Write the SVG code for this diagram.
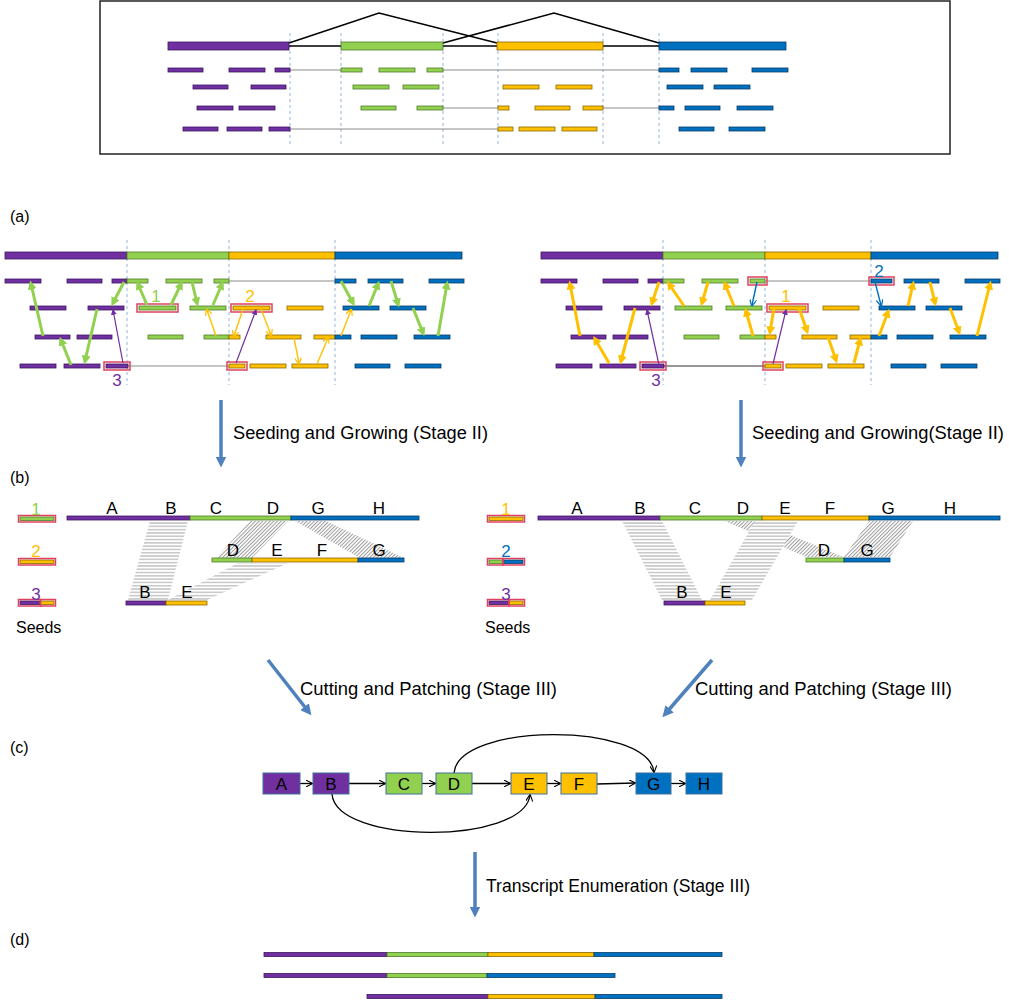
<svg xmlns="http://www.w3.org/2000/svg" xmlns:xlink="http://www.w3.org/1999/xlink" width="1009" height="1000" viewBox="0 0 1009 1000">
<style>
text{font-family:"Liberation Sans",Arial,sans-serif;fill:#000}
.p{fill:#7030A0;stroke:#3B1760;stroke-width:0.8}
.g{fill:#92D050;stroke:#4F7A28;stroke-width:0.8}
.y{fill:#FFC000;stroke:#8A6800;stroke-width:0.8}
.b{fill:#0070C0;stroke:#0A3C66;stroke-width:0.8}
.ln{stroke:#8C8C8C;stroke-width:1;fill:none}
.dash{stroke:#95B3D7;stroke-width:1;stroke-dasharray:3,3;fill:none}
.seed{fill:none;stroke:#E0405F;stroke-width:1.5}
.gt{stroke:#92D050;stroke-width:3;fill:none;marker-end:url(#mgt)}
.yt{stroke:#FFC000;stroke-width:3;fill:none;marker-end:url(#myt)}
.yn{stroke:#FFC000;stroke-width:1.4;fill:none;marker-end:url(#myn)}
.bn{stroke:#0070C0;stroke-width:1.4;fill:none;marker-end:url(#mbn)}
.pn{stroke:#7030A0;stroke-width:1.2;fill:none;marker-end:url(#mpn)}
.stage{stroke:#4F81BD;stroke-width:3.5;fill:none;marker-end:url(#mst)}
.lbl{font-size:16px}
.big{font-size:17.5px}
.num{font-size:17px;text-anchor:middle}
.node{stroke:#41719C;stroke-width:1}
.nt{font-size:17px;text-anchor:middle}
.edge{stroke:#000;stroke-width:1.3;fill:none;marker-end:url(#mk)}
.hh{fill:url(#hatchH);stroke:none}
.hd{fill:url(#hatchD);stroke:none}
</style>
<defs>
<marker id="mgt" viewBox="0 0 10 10" refX="6" refY="5" markerWidth="9" markerHeight="9" markerUnits="userSpaceOnUse" orient="auto"><path d="M0,0 L10,5 L0,10 z" fill="#92D050"/></marker>
<marker id="myt" viewBox="0 0 10 10" refX="6" refY="5" markerWidth="9" markerHeight="9" markerUnits="userSpaceOnUse" orient="auto"><path d="M0,0 L10,5 L0,10 z" fill="#FFC000"/></marker>
<marker id="myn" viewBox="0 0 10 10" refX="8" refY="5" markerWidth="7" markerHeight="7" markerUnits="userSpaceOnUse" orient="auto"><path d="M0,0 L10,5 L0,10" fill="none" stroke="#FFC000" stroke-width="1.8"/></marker>
<marker id="mbn" viewBox="0 0 10 10" refX="8" refY="5" markerWidth="7" markerHeight="7" markerUnits="userSpaceOnUse" orient="auto"><path d="M0,0 L10,5 L0,10" fill="none" stroke="#0070C0" stroke-width="1.8"/></marker>
<marker id="mpn" viewBox="0 0 10 10" refX="8" refY="5" markerWidth="6" markerHeight="6" markerUnits="userSpaceOnUse" orient="auto"><path d="M0,0 L10,5 L0,10 z" fill="#7030A0"/></marker>
<marker id="mk" viewBox="0 0 10 10" refX="9" refY="5" markerWidth="7" markerHeight="7" markerUnits="userSpaceOnUse" orient="auto"><path d="M0,0 L10,5 L0,10" fill="none" stroke="#000" stroke-width="1.6"/></marker>
<marker id="mst" viewBox="0 0 10 10" refX="5" refY="5" markerWidth="11" markerHeight="11" markerUnits="userSpaceOnUse" orient="auto"><path d="M0,0 L10,5 L0,10 z" fill="#4F81BD"/></marker>
<pattern id="hatchH" patternUnits="userSpaceOnUse" width="6" height="3.3"><rect width="6" height="3.3" fill="#fff"/><rect y="1" width="6" height="1.3" fill="#BDBDBD"/></pattern>
<pattern id="hatchD" patternUnits="userSpaceOnUse" width="2.6" height="2.6" patternTransform="rotate(45)"><rect width="2.6" height="2.6" fill="#fff"/><rect width="1" height="2.6" fill="#9A9A9A"/></pattern>
<g id="readsA">
<line class="dash" x1="127" y1="240" x2="127" y2="385"/>
<line class="dash" x1="229" y1="240" x2="229" y2="385"/>
<line class="dash" x1="335" y1="240" x2="335" y2="385"/>
<rect class="p" x="5" y="252" width="122" height="7"/>
<rect class="g" x="127" y="252" width="102" height="7"/>
<rect class="y" x="229" y="252" width="106" height="7"/>
<rect class="b" x="335" y="252" width="127" height="7"/>
<line class="ln" x1="229" y1="281" x2="335" y2="281"/>
<rect class="p" x="5" y="279" width="36" height="4"/>
<rect class="p" x="67" y="279" width="35" height="4"/>
<rect class="p" x="112" y="279" width="15" height="4"/>
<rect class="g" x="127" y="279" width="21" height="4"/>
<rect class="g" x="166" y="279" width="36" height="4"/>
<rect class="g" x="214" y="279" width="15" height="4"/>
<rect class="b" x="335" y="279" width="21" height="4"/>
<rect class="b" x="368" y="279" width="35" height="4"/>
<rect class="b" x="429" y="279" width="35" height="4"/>
<rect class="p" x="30" y="306" width="36" height="4"/>
<rect class="p" x="88" y="306" width="36" height="4"/>
<rect class="g" x="139" y="306" width="37" height="4"/>
<rect class="g" x="190" y="306" width="36" height="4"/>
<rect class="y" x="233" y="306" width="37" height="4"/>
<rect class="y" x="287" y="306" width="36" height="4"/>
<rect class="b" x="343" y="306" width="36" height="4"/>
<rect class="b" x="390" y="306" width="36" height="4"/>
<rect class="p" x="35" y="335" width="35" height="4"/>
<rect class="p" x="77" y="335" width="35" height="4"/>
<rect class="g" x="148" y="335" width="35" height="4"/>
<rect class="g" x="204" y="335" width="25" height="4"/>
<rect class="y" x="229" y="335" width="11" height="4"/>
<rect class="y" x="266" y="335" width="35" height="4"/>
<rect class="y" x="314" y="335" width="21" height="4"/>
<rect class="b" x="335" y="335" width="16" height="4"/>
<rect class="b" x="361" y="335" width="36" height="4"/>
<rect class="b" x="414" y="335" width="36" height="4"/>
<rect class="p" x="20" y="364" width="36" height="4"/>
<rect class="p" x="64" y="364" width="36" height="4"/>
<rect class="p" x="106" y="364" width="22" height="4"/>
<rect class="y" x="229" y="364" width="16" height="4"/>
<rect class="y" x="250" y="364" width="36" height="4"/>
<rect class="y" x="292" y="364" width="36" height="4"/>
<rect class="b" x="355" y="364" width="35" height="4"/>
<rect class="b" x="405" y="364" width="36" height="4"/>
</g>
</defs>
<rect width="1009" height="1000" fill="#fff"/>

<g id="overview">
<rect x="100" y="1" width="850" height="153" fill="none" stroke="#222" stroke-width="1.5"/>
<g class="dashes">
<line class="dash" x1="290" y1="33" x2="290" y2="145"/>
<line class="dash" x1="341" y1="33" x2="341" y2="145"/>
<line class="dash" x1="443" y1="33" x2="443" y2="145"/>
<line class="dash" x1="498" y1="33" x2="498" y2="145"/>
<line class="dash" x1="603" y1="33" x2="603" y2="145"/>
<line class="dash" x1="659" y1="33" x2="659" y2="145"/>
</g>
<path d="M289,46 H341 M443,46 H497 M603,46 H659 M289,43 L379,13 L497,43 M443,43 L554,13 L659,43" stroke="#000" stroke-width="1.5" fill="none"/>
<rect class="p" x="168" y="42" width="121" height="8"/>
<rect class="g" x="341" y="42" width="102" height="8"/>
<rect class="y" x="497" y="42" width="106" height="8"/>
<rect class="b" x="659" y="42" width="127" height="8"/>
<path class="ln" d="M290,70 H341 M443,70 H659 M443,108 H498 M603,108 H659 M290,129 H498"/>
<rect class="p" x="168" y="68" width="35" height="4"/>
<rect class="p" x="229" y="68" width="36" height="4"/>
<rect class="p" x="275" y="68" width="15" height="4"/>
<rect class="g" x="341" y="68" width="21" height="4"/>
<rect class="g" x="379" y="68" width="36" height="4"/>
<rect class="g" x="427" y="68" width="16" height="4"/>
<rect class="b" x="659" y="68" width="20" height="4"/>
<rect class="b" x="691" y="68" width="36" height="4"/>
<rect class="b" x="752" y="68" width="36" height="4"/>
<rect class="p" x="193" y="85" width="35" height="4"/>
<rect class="p" x="251" y="85" width="35" height="4"/>
<rect class="g" x="353" y="85" width="36" height="4"/>
<rect class="g" x="403" y="85" width="36" height="4"/>
<rect class="y" x="503" y="85" width="36" height="4"/>
<rect class="y" x="556" y="85" width="36" height="4"/>
<rect class="b" x="667" y="85" width="36" height="4"/>
<rect class="b" x="714" y="85" width="36" height="4"/>
<rect class="p" x="197" y="106" width="36" height="4"/>
<rect class="p" x="239" y="106" width="36" height="4"/>
<rect class="g" x="361" y="106" width="35" height="4"/>
<rect class="g" x="417" y="106" width="26" height="4"/>
<rect class="y" x="498" y="106" width="11" height="4"/>
<rect class="y" x="535" y="106" width="35" height="4"/>
<rect class="y" x="583" y="106" width="20" height="4"/>
<rect class="b" x="659" y="106" width="15" height="4"/>
<rect class="b" x="685" y="106" width="35" height="4"/>
<rect class="b" x="737" y="106" width="36" height="4"/>
<rect class="p" x="183" y="127" width="35" height="4"/>
<rect class="p" x="227" y="127" width="35" height="4"/>
<rect class="p" x="269" y="127" width="21" height="4"/>
<rect class="y" x="498" y="127" width="15" height="4"/>
<rect class="y" x="519" y="127" width="36" height="4"/>
<rect class="y" x="562" y="127" width="35" height="4"/>
<rect class="b" x="679" y="127" width="35" height="4"/>
<rect class="b" x="729" y="127" width="36" height="4"/>
</g>

<text class="lbl" x="10" y="222">(a)</text>
<text class="lbl" x="10" y="483">(b)</text>
<text class="lbl" x="10" y="753">(c)</text>
<text class="lbl" x="10" y="945">(d)</text>

<g id="panel-a-left">
<line class="ln" x1="128" y1="366" x2="229" y2="366"/>
<use xlink:href="#readsA" href="#readsA"/>
<rect class="seed" x="137" y="304" width="41" height="8"/>
<rect class="seed" x="231" y="304" width="41" height="8"/>
<rect class="seed" x="104" y="362" width="26" height="8"/>
<rect class="seed" x="227" y="362" width="20" height="8"/>
<text class="num" x="156" y="302" style="fill:#92D050">1</text>
<text class="num" x="250" y="302" style="fill:#FFC000">2</text>
<text class="num" x="117" y="386" style="fill:#7030A0">3</text>
<g id="arrows-a-left">
<line class="gt" x1="43" y1="336" x2="31" y2="284"/>
<line class="gt" x1="71" y1="365" x2="61" y2="340"/>
<line class="gt" x1="97" y1="309" x2="85" y2="361"/>
<line class="gt" x1="124" y1="282" x2="113" y2="303"/>
<line class="gt" x1="147" y1="305" x2="138" y2="284"/>
<line class="gt" x1="171" y1="305" x2="181" y2="284"/>
<line class="gt" x1="192" y1="282" x2="197" y2="303"/>
<line class="gt" x1="213" y1="305" x2="222" y2="284"/>
<line class="gt" x1="341" y1="281" x2="353" y2="303"/>
<line class="gt" x1="369" y1="306" x2="378" y2="284"/>
<line class="gt" x1="391" y1="281" x2="398" y2="304"/>
<line class="gt" x1="413" y1="308" x2="423" y2="333"/>
<line class="gt" x1="438" y1="336" x2="447" y2="284"/>
<line class="yn" x1="216" y1="336" x2="207" y2="310"/>
<line class="yn" x1="243" y1="309" x2="234" y2="336"/>
<line class="yn" x1="261" y1="309" x2="271" y2="335"/>
<line class="yn" x1="294" y1="338" x2="299" y2="363"/>
<line class="yn" x1="317" y1="364" x2="328" y2="338"/>
<line class="yn" x1="341" y1="336" x2="351" y2="310"/>
<line class="pn" x1="236" y1="363" x2="256" y2="310"/>
<line class="pn" x1="123" y1="363" x2="113" y2="310"/>
</g>
</g>

<g id="panel-a-right">
<line x1="664" y1="366" x2="765" y2="366" stroke="#333" stroke-width="1"/>
<use xlink:href="#readsA" href="#readsA" transform="translate(536,0)"/>
<rect class="seed" x="767" y="304" width="41" height="8"/>
<rect class="seed" x="748" y="277" width="19" height="8"/>
<rect class="seed" x="869" y="277" width="25" height="8"/>
<rect class="seed" x="640" y="362" width="26" height="8"/>
<rect class="seed" x="763" y="362" width="20" height="8"/>
<text class="num" x="786" y="302" style="fill:#FFC000">1</text>
<text class="num" x="879" y="277" style="fill:#0070C0">2</text>
<text class="num" x="656" y="386" style="fill:#7030A0">3</text>
<g id="arrows-a-right">
<line class="yt" x1="580" y1="336" x2="570" y2="284"/>
<line class="yt" x1="609" y1="363" x2="595" y2="339"/>
<line class="yt" x1="635" y1="308" x2="621" y2="361"/>
<line class="yt" x1="659" y1="282" x2="652" y2="303"/>
<line class="yt" x1="684" y1="306" x2="669" y2="284"/>
<line class="yt" x1="708" y1="282" x2="702" y2="303"/>
<line class="yt" x1="734" y1="306" x2="725" y2="284"/>
<line class="yt" x1="753" y1="336" x2="746" y2="311"/>
<line class="yt" x1="774" y1="308" x2="770" y2="332"/>
<line class="yt" x1="799" y1="308" x2="807" y2="331"/>
<line class="yt" x1="828" y1="337" x2="836" y2="360"/>
<line class="yt" x1="854" y1="363" x2="860" y2="340"/>
<line class="yt" x1="879" y1="336" x2="888" y2="312"/>
<line class="yt" x1="908" y1="306" x2="913" y2="284"/>
<line class="yt" x1="930" y1="282" x2="935" y2="303"/>
<line class="yt" x1="950" y1="308" x2="959" y2="332"/>
<line class="yt" x1="977" y1="336" x2="990" y2="284"/>
<line class="bn" x1="757" y1="282" x2="752" y2="305"/>
<line class="bn" x1="875" y1="282" x2="881" y2="305"/>
<line class="pn" x1="659" y1="365" x2="647" y2="310"/>
<line class="pn" x1="773" y1="364" x2="786" y2="310"/>
</g>
</g>

<g id="stage-arrows">
<line class="stage" x1="221" y1="400" x2="221" y2="462"/>
<line class="stage" x1="741" y1="400" x2="741" y2="462"/>
<line class="stage" x1="268" y1="660" x2="308" y2="711"/>
<line class="stage" x1="712" y1="660" x2="666" y2="713"/>
<line class="stage" x1="475" y1="852" x2="475" y2="912"/>
</g>
<text class="big" x="233" y="439" textLength="255" lengthAdjust="spacingAndGlyphs">Seeding and Growing (Stage II)</text>
<text class="big" x="752" y="439" textLength="252" lengthAdjust="spacingAndGlyphs">Seeding and Growing(Stage II)</text>
<text class="big" x="300" y="695" textLength="257" lengthAdjust="spacingAndGlyphs">Cutting and Patching (Stage III)</text>
<text class="big" x="695" y="695" textLength="257" lengthAdjust="spacingAndGlyphs">Cutting and Patching (Stage III)</text>
<text class="big" x="486" y="892" textLength="264" lengthAdjust="spacingAndGlyphs">Transcript Enumeration (Stage III)</text>

<g id="panel-b-left">
<polygon class="hh" points="150,521 188,521 168,600 128,600"/>
<polygon class="hd" points="250,521 288,521 252,558 216,558"/>
<polygon class="hd" points="295,521 326,521 404,558 360,558"/>
<polygon class="hh" points="238,563 288,563 207,600 168,600"/>
<rect class="p" x="67" y="516" width="123" height="4"/>
<rect class="g" x="190" y="516" width="101" height="4"/>
<rect class="b" x="291" y="516" width="128" height="4"/>
<rect class="g" x="212" y="558" width="40" height="4"/>
<rect class="y" x="252" y="558" width="106" height="4"/>
<rect class="b" x="358" y="558" width="46" height="4"/>
<rect class="p" x="126" y="601" width="40" height="4"/>
<rect class="y" x="166" y="601" width="41" height="4"/>
<g class="nt">
<text x="112" y="514">A</text><text x="171" y="514">B</text><text x="216" y="514">C</text><text x="273" y="514">D</text><text x="318" y="514">G</text><text x="379" y="514">H</text>
<text x="233" y="556">D</text><text x="277" y="556">E</text><text x="322" y="556">F</text><text x="379" y="556">G</text>
<text x="145" y="598">B</text><text x="187" y="598">E</text>
</g>
<g id="seeds-left">
<rect class="g" x="20" y="517" width="34" height="3.5"/>
<rect class="seed" x="18.5" y="515.5" width="37" height="6.5"/>
<rect class="y" x="20" y="560" width="34" height="3.5"/>
<rect class="seed" x="18.5" y="558.5" width="37" height="6.5"/>
<rect class="p" x="20" y="601" width="20" height="3.5"/>
<rect class="y" x="40" y="601" width="14" height="3.5"/>
<rect class="seed" x="18.5" y="599.5" width="22" height="6.5"/>
<rect class="seed" x="40.5" y="599.5" width="15" height="6.5"/>
<text class="num" x="36" y="515" style="fill:#92D050">1</text>
<text class="num" x="36" y="557" style="fill:#FFC000">2</text>
<text class="num" x="36" y="600" style="fill:#7030A0">3</text>
<text class="lbl" x="16" y="633">Seeds</text>
</g>
</g>

<g id="panel-b-right">
<polygon class="hh" points="622,521 662,521 702,600 662,600"/>
<polygon class="hd" points="725,521 757,521 843,557 806,557"/>
<polygon class="hh" points="755,521 798,521 752,600 710,600"/>
<polygon class="hd" points="869,521 913,521 890,557 844,557"/>
<rect class="p" x="538" y="516" width="122" height="4"/>
<rect class="g" x="660" y="516" width="102" height="4"/>
<rect class="y" x="762" y="516" width="107" height="4"/>
<rect class="b" x="869" y="516" width="131" height="4"/>
<rect class="g" x="806" y="558" width="38" height="4"/>
<rect class="b" x="844" y="558" width="46" height="4"/>
<rect class="p" x="664" y="601" width="41" height="4"/>
<rect class="y" x="705" y="601" width="40" height="4"/>
<g class="nt">
<text x="577" y="514">A</text><text x="640" y="514">B</text><text x="695" y="514">C</text><text x="743" y="514">D</text><text x="785" y="514">E</text><text x="830" y="514">F</text><text x="888" y="514">G</text><text x="950" y="514">H</text>
<text x="824" y="556">D</text><text x="867" y="556">G</text>
<text x="682" y="598">B</text><text x="726" y="598">E</text>
</g>
<g id="seeds-right">
<rect class="y" x="489" y="517" width="34" height="3.5"/>
<rect class="seed" x="487.5" y="515.5" width="37" height="6.5"/>
<rect class="g" x="489" y="560" width="14" height="3.5"/>
<rect class="b" x="503" y="560" width="20" height="3.5"/>
<rect class="seed" x="487.5" y="558.5" width="15.5" height="6.5"/>
<rect class="seed" x="503" y="558.5" width="21.5" height="6.5"/>
<rect class="p" x="489" y="601" width="20" height="3.5"/>
<rect class="y" x="509" y="601" width="14" height="3.5"/>
<rect class="seed" x="487.5" y="599.5" width="21.5" height="6.5"/>
<rect class="seed" x="509" y="599.5" width="15.5" height="6.5"/>
<text class="num" x="506" y="515" style="fill:#FFC000">1</text>
<text class="num" x="506" y="557" style="fill:#0070C0">2</text>
<text class="num" x="506" y="600" style="fill:#7030A0">3</text>
<text class="lbl" x="485" y="633">Seeds</text>
</g>
</g>

<g id="graph-c">
<g id="connectors">
<path class="edge" d="M300,783.5 H312"/>
<path class="edge" d="M349,783.5 H385"/>
<path class="edge" d="M422,783.5 H435"/>
<path class="edge" d="M472,783.5 H510"/>
<path class="edge" d="M547,783.5 H560"/>
<path class="edge" d="M597,784 L635,783"/>
<path class="edge" d="M671,783.5 H685"/>
<path class="edge" d="M454,773 C458,722 648,722 654,772"/>
<path class="edge" d="M332,794 C336,845 524,845 530,795"/>
</g>
<g id="node-A"><rect class="node" x="263" y="773" width="37" height="21" fill="#7030A0"/><text class="nt" x="281.5" y="790">A</text></g>
<g id="node-B"><rect class="node" x="313" y="773" width="36" height="21" fill="#7030A0"/><text class="nt" x="331" y="790">B</text></g>
<g id="node-C"><rect class="node" x="386" y="773" width="36" height="21" fill="#92D050"/><text class="nt" x="404" y="790">C</text></g>
<g id="node-D"><rect class="node" x="436" y="773" width="36" height="21" fill="#92D050"/><text class="nt" x="454" y="790">D</text></g>
<g id="node-E"><rect class="node" x="511" y="773" width="36" height="21" fill="#FFC000"/><text class="nt" x="529" y="790">E</text></g>
<g id="node-F"><rect class="node" x="561" y="773" width="36" height="21" fill="#FFC000"/><text class="nt" x="579" y="790">F</text></g>
<g id="node-G"><rect class="node" x="636" y="773" width="35" height="21" fill="#0070C0"/><text class="nt" x="653.5" y="790">G</text></g>
<g id="node-H"><rect class="node" x="686" y="773" width="36" height="21" fill="#0070C0"/><text class="nt" x="704" y="790">H</text></g>
</g>

<g id="transcripts-d">
<rect class="p" x="264" y="952.5" width="123" height="4"/>
<rect class="g" x="387" y="952.5" width="101" height="4"/>
<rect class="y" x="488" y="952.5" width="106" height="4"/>
<rect class="b" x="594" y="952.5" width="128" height="4"/>
<rect class="p" x="264" y="973.5" width="123" height="4"/>
<rect class="g" x="387" y="973.5" width="100" height="4"/>
<rect class="b" x="487" y="973.5" width="128" height="4"/>
<rect class="p" x="367" y="994.5" width="121" height="4"/>
<rect class="y" x="488" y="994.5" width="107" height="4"/>
<rect class="b" x="595" y="994.5" width="127" height="4"/>
</g>
</svg>
